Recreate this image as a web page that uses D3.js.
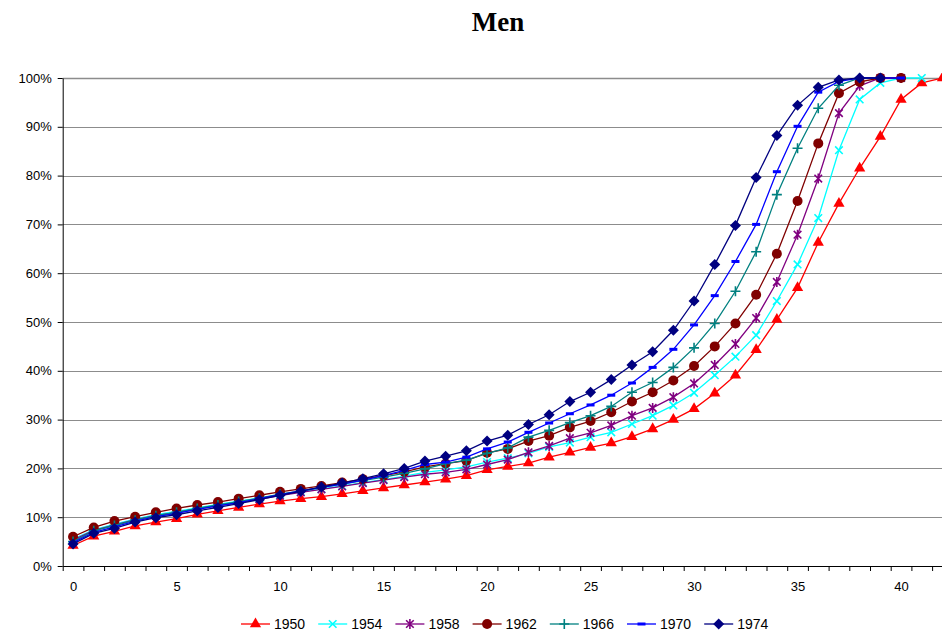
<!DOCTYPE html>
<html>
<head>
<meta charset="utf-8">
<script src="https://cdn.jsdelivr.net/npm/d3@7"></script>
<style>
    body { margin: 0; background: #fff; }
    #chart { width: 942px; height: 631px; }
    .axis text { font-family: "Liberation Sans", Arial, sans-serif; font-size: 13px; fill: #000; }
    .axis path, .axis line { stroke: #000; }
    .grid line { stroke: #8c8c8c; }
</style>
</head>
<body>
<div id="chart"></div>
<script>

// ages on the x axis (0..42)
let ages = d3.range(0, 43);

let years = ["1950", "1954", "1958", "1962", "1966", "1970", "1974"];

// cumulative share per age, one array per cohort
let s1950 = [4.2, 6.1, 7.1, 8.2, 9.0, 9.7, 10.6, 11.3, 12.0, 12.7, 13.3, 13.8, 14.2, 14.8, 15.4, 16.0, 16.6, 17.2, 17.8, 18.5,
    19.7, 20.4, 21.1, 22.3, 23.3, 24.3, 25.2, 26.5, 28.1, 30.0, 32.2, 35.4, 39.1, 44.3, 50.5, 57.0, 66.3, 74.3, 81.5, 88.0,
    95.6, 99.0, 100];
let s1954 = [5.5, 7.4, 8.6, 9.6, 10.5, 11.2, 11.9, 12.6, 13.3, 13.9, 14.6, 15.2, 15.8, 16.4, 17.1, 17.7, 18.4, 19.2, 19.7, 20.3,
    21.3, 22.1, 23.1, 24.4, 25.3, 26.4, 27.4, 29.1, 30.8, 32.9, 35.5, 39.1, 42.9, 47.3, 54.3, 61.8, 71.3, 85.2, 95.6, 99.0,
    100, 100];
let s1958 = [5.3, 7.3, 8.4, 9.5, 10.3, 11.0, 11.7, 12.4, 13.0, 13.7, 14.4, 15.1, 15.7, 16.3, 17.0, 17.6, 18.2, 18.8, 19.2, 19.8,
    20.8, 21.8, 23.3, 24.6, 26.2, 27.3, 28.8, 30.8, 32.4, 34.6, 37.4, 41.2, 45.5, 50.8, 58.2, 67.9, 79.4, 92.8, 98.4, 100,
    100];
let s1962 = [6.0, 7.9, 9.2, 10.1, 11.0, 11.8, 12.5, 13.1, 13.8, 14.5, 15.2, 15.8, 16.4, 17.1, 17.8, 18.5, 19.3, 20.3, 21.0, 21.6,
    23.2, 24.0, 25.6, 26.7, 28.4, 29.7, 31.5, 33.7, 35.6, 38.0, 41.0, 45.0, 49.7, 55.6, 64.0, 74.8, 86.6, 96.9, 99.2, 100,
    100];
let s1966 = [5.0, 7.2, 8.3, 9.4, 10.3, 11.0, 11.8, 12.5, 13.2, 13.9, 14.7, 15.4, 16.1, 16.8, 17.5, 18.2, 19.0, 19.9, 21.0, 21.7,
    23.1, 24.2, 26.4, 27.8, 29.4, 30.8, 32.7, 35.6, 37.6, 40.7, 44.7, 49.7, 56.3, 64.4, 76.1, 85.6, 93.8, 98.5, 100, 100];
let s1970 = [4.8, 6.9, 8.0, 9.2, 10.1, 10.8, 11.6, 12.3, 13.0, 13.8, 14.6, 15.4, 16.1, 16.8, 17.6, 18.5, 19.6, 20.8, 21.3, 22.3,
    24.0, 25.4, 27.4, 29.3, 31.2, 33.0, 35.0, 37.5, 40.7, 44.4, 49.4, 55.4, 62.4, 70.0, 80.8, 90.1, 97.1, 99.3, 100, 100,
    100];
let s1974 = [4.5, 6.7, 7.7, 9.0, 9.9, 10.5, 11.3, 12.0, 12.8, 13.6, 14.5, 15.3, 16.2, 17.0, 17.9, 18.9, 20.0, 21.5, 22.5, 23.6,
    25.6, 26.8, 29.0, 31.0, 33.7, 35.6, 38.2, 41.2, 43.9, 48.3, 54.3, 61.8, 69.8, 79.6, 88.2, 94.4, 98.1, 99.6, 100, 100];

let yTicks = [0, 10, 20, 30, 40, 50, 60, 70, 80, 90, 100];
let xLabels = [0, 5, 10, 15, 20, 25, 30, 35, 40];

class CohortChart {

    constructor(parentElement) {
        this.parentElement = parentElement;
        let values = [s1950, s1954, s1958, s1962, s1966, s1970, s1974];
        this.series = years.map((y, i) => ({
            name: y,
            points: values[i].map((v, j) => ({ age: ages[j], value: v }))
        }));
        this.colors = ["#ff0000", "#00ffff", "#800080", "#800000", "#008080", "#0000ff", "#000080"];
        this.markers = ["triangle", "times", "asterisk", "circle", "plus", "dash", "diamond"];
        this.initVis();
    }

    // draws one marker of the given type centred on 0,0
    drawMarker(g, type, color) {
        if (type === "triangle") {
            g.append("path").attr("d", d3.symbol(d3.symbolTriangle, 55)()).attr("fill", color);
        } else if (type === "circle") {
            g.append("circle").attr("r", 5).attr("fill", color);
        } else if (type === "diamond") {
            g.append("path").attr("d", "M0,-5.5L5.5,0L0,5.5L-5.5,0Z").attr("fill", color);
        } else if (type === "dash") {
            g.append("rect").attr("x", -4).attr("y", -1.5).attr("width", 8).attr("height", 3).attr("fill", color);
        } else {
            let p = "";
            if (type === "times" || type === "asterisk") p += "M-3.8,-3.8L3.8,3.8M-3.8,3.8L3.8,-3.8";
            if (type === "plus" || type === "asterisk") p += "M0,-5L0,5";
            if (type === "plus") p += "M-5,0L5,0";
            g.append("path").attr("d", p).attr("stroke", color).attr("stroke-width", 1.6).attr("fill", "none");
        }
    }

    initVis() {
        let vis = this;

        vis.margin = { top: 78, left: 62.7, bottom: 65 };
        vis.width = 942;
        vis.height = 631;

        vis.svg = d3.select("#" + vis.parentElement).append("svg")
            .attr("width", vis.width)
            .attr("height", vis.height);

        vis.x = d3.scaleLinear()
            .domain([-0.5, 42.5])
            .range([vis.margin.left, vis.margin.left + 43 * 20.7]);

        vis.y = d3.scaleLinear()
            .domain([0, 100])
            .range([566, vis.margin.top]);

        // title
        vis.svg.append("text")
            .attr("x", 498)
            .attr("y", 31)
            .attr("text-anchor", "middle")
            .style("font-family", "'Liberation Serif', 'Times New Roman', serif")
            .style("font-weight", "bold")
            .style("font-size", "27px")
            .text("Men");

        // horizontal gridlines
        vis.svg.append("g")
            .attr("class", "grid")
            .selectAll("line")
            .data(yTicks.filter(d => d > 0))
            .enter().append("line")
            .attr("x1", vis.margin.left)
            .attr("x2", vis.width)
            .attr("y1", d => Math.round(vis.y(d)) + 0.5)
            .attr("y2", d => Math.round(vis.y(d)) + 0.5)
            .attr("stroke-width", d => d === 100 ? 1.6 : 1);

        // y axis
        vis.svg.append("g")
            .attr("class", "y-axis axis")
            .attr("transform", "translate(" + vis.margin.left + ",0)")
            .call(d3.axisLeft(vis.y)
                .tickValues(yTicks)
                .tickFormat(d => d + "%")
                .tickSize(5)
                .tickSizeOuter(0)
                .tickPadding(6));

        // x axis: ticks between categories, labels every 5
        vis.svg.append("g")
            .attr("class", "x-axis axis")
            .attr("transform", "translate(0,566)")
            .call(d3.axisBottom(vis.x)
                .tickValues(d3.range(-0.5, 43, 1))
                .tickFormat("")
                .tickSize(5)
                .tickSizeOuter(0));

        vis.svg.append("g")
            .attr("class", "x-labels axis")
            .attr("transform", "translate(0,566)")
            .call(d3.axisBottom(vis.x)
                .tickValues(xLabels)
                .tickSize(0)
                .tickPadding(16))
            .select(".domain").remove();

        vis.line = d3.line()
            .x(d => vis.x(d.age))
            .y(d => vis.y(d.value));

        // series, oldest first so the youngest sits on top
        vis.series.forEach((s, i) => {
            let g = vis.svg.append("g").attr("class", "series");
            g.append("path")
                .attr("d", vis.line(s.points))
                .attr("fill", "none")
                .attr("stroke", vis.colors[i])
                .attr("stroke-width", 1.3);
            g.selectAll(".pt")
                .data(s.points)
                .enter().append("g")
                .attr("class", "pt")
                .attr("transform", d => "translate(" + vis.x(d.age) + "," + vis.y(d.value) + ")")
                .each(function () { vis.drawMarker(d3.select(this), vis.markers[i], vis.colors[i]); });
        });

        // legend
        let legend = vis.svg.append("g")
            .attr("transform", "translate(241,624)");
        vis.series.forEach((s, i) => {
            let item = legend.append("g").attr("transform", "translate(" + (i * 77.2) + ",0)");
            item.append("line")
                .attr("x1", 0).attr("x2", 29)
                .attr("stroke", vis.colors[i])
                .attr("stroke-width", 1.3);
            vis.drawMarker(item.append("g").attr("transform", "translate(14.5,0)"), vis.markers[i], vis.colors[i]);
            item.append("text")
                .attr("x", 33)
                .attr("dy", "0.35em")
                .style("font-family", "'Liberation Sans', Arial, sans-serif")
                .style("font-size", "14px")
                .text(s.name);
        });
    }
}

new CohortChart("chart");
</script>
</body>
</html>
